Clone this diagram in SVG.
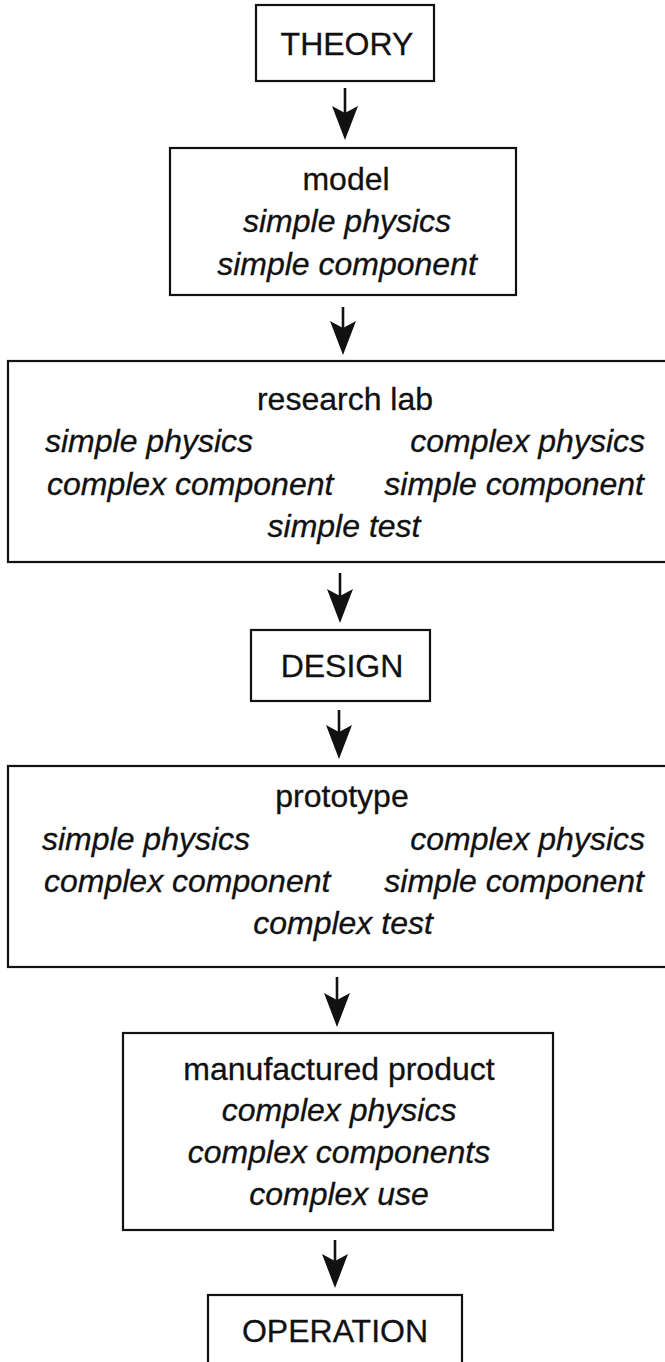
<svg xmlns="http://www.w3.org/2000/svg" width="665" height="1362" viewBox="0 0 665 1362">
  <style>
    .box { fill: none; stroke: #111; stroke-width: 2.2; }
    .shaft { stroke: #111; stroke-width: 2.6; fill: none; }
    text { font-family: "Liberation Sans", Arial, Helvetica, sans-serif; font-size: 32px; fill: #111; stroke: #111; stroke-width: 0.3; }
    .c { text-anchor: middle; }
    .r { text-anchor: end; }
    .i { font-style: italic; }
  </style>
  <defs>
    <!-- solid arrowhead with a shallow notch at its back -->
    <path id="head" d="M0,0 L-13,-34 L0,-27 L13,-34 Z" fill="#111"/>
  </defs>
  <rect width="665" height="1362" fill="#fff"/>

  <g id="connectors">
    <g id="c-theory-model">
      <line class="shaft" x1="345" y1="88" x2="345" y2="120"/>
      <use href="#head" x="345" y="140"/>
    </g>
    <g id="c-model-lab">
      <line class="shaft" x1="343" y1="307" x2="343" y2="335"/>
      <use href="#head" x="343" y="355"/>
    </g>
    <g id="c-lab-design">
      <line class="shaft" x1="340" y1="573" x2="340" y2="603"/>
      <use href="#head" x="340" y="623"/>
    </g>
    <g id="c-design-prototype">
      <line class="shaft" x1="339" y1="710" x2="339" y2="739"/>
      <use href="#head" x="339" y="759"/>
    </g>
    <g id="c-prototype-product">
      <line class="shaft" x1="337" y1="977" x2="337" y2="1007"/>
      <use href="#head" x="337" y="1027"/>
    </g>
    <g id="c-product-operation">
      <line class="shaft" x1="335" y1="1240" x2="335" y2="1268"/>
      <use href="#head" x="335" y="1288"/>
    </g>
  </g>

  <g id="theory">
    <rect class="box" x="256" y="5" width="178" height="76"/>
    <text class="c" x="347" y="55">THEORY</text>
  </g>

  <g id="model">
    <rect class="box" x="170" y="148" width="346" height="147"/>
    <text class="c" x="346" y="190">model</text>
    <text class="c i" x="347" y="232">simple physics</text>
    <text class="c i" x="347" y="275">simple component</text>
  </g>

  <g id="research-lab">
    <rect class="box" x="8" y="361" width="670" height="201"/>
    <text class="c" x="345" y="410">research lab</text>
    <text class="i" x="45" y="452">simple physics</text>
    <text class="r i" x="645" y="452">complex physics</text>
    <text class="i" x="47" y="495">complex component</text>
    <text class="r i" x="644" y="495">simple component</text>
    <text class="c i" x="344" y="537">simple test</text>
  </g>

  <g id="design">
    <rect class="box" x="251" y="630" width="179" height="71"/>
    <text class="c" x="342" y="677">DESIGN</text>
  </g>

  <g id="prototype">
    <rect class="box" x="8" y="766" width="670" height="201"/>
    <text class="c" x="342" y="807">prototype</text>
    <text class="i" x="42" y="850">simple physics</text>
    <text class="r i" x="645" y="850">complex physics</text>
    <text class="i" x="44" y="892">complex component</text>
    <text class="r i" x="644" y="892">simple component</text>
    <text class="c i" x="343" y="934">complex test</text>
  </g>

  <g id="manufactured-product">
    <rect class="box" x="123" y="1033" width="430" height="197"/>
    <text class="c" x="339" y="1080">manufactured product</text>
    <text class="c i" x="339" y="1121">complex physics</text>
    <text class="c i" x="339" y="1163">complex components</text>
    <text class="c i" x="339" y="1205">complex use</text>
  </g>

  <g id="operation">
    <rect class="box" x="208" y="1295" width="254" height="90"/>
    <text class="c" x="335" y="1342">OPERATION</text>
  </g>
</svg>
